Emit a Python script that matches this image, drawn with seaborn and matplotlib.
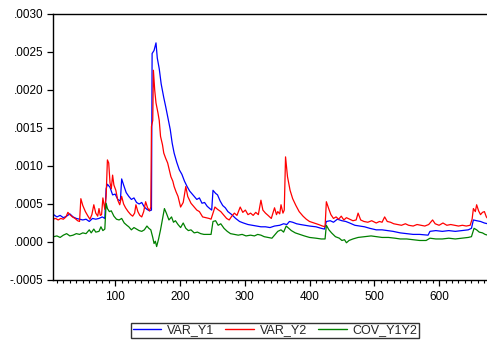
import pandas as pd
import seaborn as sns
import matplotlib.pyplot as plt
from matplotlib.ticker import MultipleLocator, FuncFormatter

# values
x_y1 = [1, 5, 10, 15, 20, 25, 30, 35, 40, 45, 50, 55, 60, 65, 70, 75, 80, 84, 86, 88,
        92, 96, 100, 104, 108, 110, 113, 117, 121, 125, 129, 133, 137, 141, 145, 149, 153, 156, 157, 160,
        163, 165, 168, 171, 175, 178, 181, 185, 188, 191, 195, 199, 203, 207, 211, 215, 219, 222, 226, 230,
        234, 238, 242, 246, 249, 251, 255, 258, 262, 266, 270, 274, 280, 286, 292, 298, 305, 312, 318, 325,
        332, 339, 346, 354, 360, 365, 369, 374, 380, 386, 393, 400, 410, 418, 423, 426, 432, 437, 443, 450,
        456, 462, 470, 477, 485, 493, 503, 512, 520, 529, 540, 550, 560, 570, 583, 586, 595, 605, 615, 625,
        635, 645, 650, 653, 658, 664, 670, 675]
var_y1 = [0.00034, 0.00036, 0.00033, 0.00035, 0.00032, 0.00034, 0.00037, 0.00033, 0.00031, 0.00030,
          0.00029, 0.00030, 0.00027, 0.00031, 0.00030, 0.00031, 0.00033, 0.00031, 0.00070, 0.00076,
          0.00072, 0.00062, 0.00063, 0.00056, 0.00054, 0.00083, 0.00075, 0.00065, 0.00060, 0.00056,
          0.00058, 0.00052, 0.00050, 0.00052, 0.00046, 0.00043, 0.00041, 0.00042, 0.00248, 0.00252,
          0.00262, 0.00242, 0.00228, 0.00208, 0.00190, 0.00178, 0.00165, 0.00148, 0.00130, 0.00117,
          0.00105, 0.00095, 0.00089, 0.00080, 0.00073, 0.00067, 0.00063, 0.00060, 0.00056, 0.00058,
          0.00051, 0.00052, 0.00047, 0.00044, 0.00042, 0.00068, 0.00064, 0.00062, 0.00054, 0.00048,
          0.00045, 0.00040, 0.00036, 0.00031, 0.00027, 0.00025, 0.00023, 0.00022, 0.00021, 0.00020,
          0.00020, 0.00019, 0.00021, 0.00022, 0.00024, 0.00023, 0.00027, 0.00026, 0.00024, 0.00023,
          0.00022, 0.00021, 0.00020, 0.00018, 0.00017, 0.00027, 0.00028, 0.00026, 0.00030, 0.00028,
          0.00027, 0.00025, 0.00022, 0.00021, 0.00020, 0.00018, 0.00016, 0.00016, 0.00015, 0.00014,
          0.00012, 0.00011, 0.00010, 0.00010, 0.00009, 0.00014, 0.00015, 0.00014, 0.00015, 0.00014,
          0.00015, 0.00016, 0.00018, 0.00029, 0.00028, 0.00027, 0.00025, 0.00024]

x_y2 = [1, 4, 8, 12, 16, 20, 24, 27, 30, 34, 38, 42, 45, 47, 50, 54, 58, 61, 64, 67,
        70, 73, 75, 77, 79, 81, 84, 86, 88, 90, 92, 94, 96, 98, 101, 104, 107, 110, 113, 116,
        120, 124, 127, 130, 132, 135, 138, 141, 144, 147, 150, 153, 155, 156, 158, 159, 161, 163, 166, 168,
        170, 173, 175, 178, 181, 184, 186, 189, 191, 194, 197, 201, 205, 209, 212, 217, 221, 226, 230, 235,
        240, 245, 248, 251, 254, 258, 263, 268, 272, 276, 280, 284, 288, 293, 297, 301, 305, 309, 313, 317,
        321, 325, 328, 332, 336, 341, 346, 349, 351, 354, 356, 359, 361, 363, 366, 370, 374, 379, 384, 390,
        395, 400, 407, 414, 420, 424, 426, 430, 433, 437, 441, 445, 449, 453, 457, 462, 467, 472, 475, 479,
        484, 490, 496, 503, 508, 512, 516, 520, 525, 530, 536, 542, 548, 553, 560, 566, 572, 578, 584, 590,
        594, 600, 606, 612, 618, 624, 630, 636, 642, 648, 651, 653, 656, 658, 661, 664, 667, 670, 673, 675]
var_y2 = [0.00033, 0.00030, 0.00031, 0.00029, 0.00031, 0.00030, 0.00033, 0.00039, 0.00036, 0.00033,
          0.00031, 0.00028, 0.00027, 0.00057, 0.00048, 0.00040, 0.00034, 0.00030, 0.00036, 0.00049,
          0.00038, 0.00034, 0.00044, 0.00035, 0.00036, 0.00058, 0.00043, 0.00060, 0.00108, 0.00104,
          0.00078, 0.00070, 0.00088, 0.00075, 0.00068, 0.00055, 0.00049, 0.00060, 0.00050, 0.00045,
          0.00040, 0.00036, 0.00034, 0.00038, 0.00049, 0.00040, 0.00035, 0.00033, 0.00040, 0.00053,
          0.00045, 0.00041, 0.00046, 0.00152, 0.00160, 0.00226, 0.00200, 0.00183, 0.00170, 0.00160,
          0.00139, 0.00128, 0.00117, 0.00110, 0.00104, 0.00093, 0.00086, 0.00080, 0.00073, 0.00066,
          0.00060, 0.00046, 0.00052, 0.00073, 0.00060, 0.00051, 0.00047, 0.00042, 0.00040, 0.00033,
          0.00032, 0.00031, 0.00030, 0.00038, 0.00046, 0.00043, 0.00040, 0.00035, 0.00031, 0.00029,
          0.00034, 0.00038, 0.00035, 0.00046, 0.00039, 0.00042, 0.00036, 0.00038, 0.00035, 0.00039,
          0.00036, 0.00055, 0.00042, 0.00038, 0.00035, 0.00031, 0.00045, 0.00036, 0.00040, 0.00037,
          0.00049, 0.00038, 0.00042, 0.00112, 0.00086, 0.00068, 0.00057, 0.00048, 0.00040, 0.00034,
          0.00030, 0.00027, 0.00025, 0.00023, 0.00021, 0.00020, 0.00053, 0.00043, 0.00036, 0.00031,
          0.00033, 0.00030, 0.00034, 0.00029, 0.00032, 0.00030, 0.00028, 0.00029, 0.00038, 0.00029,
          0.00027, 0.00026, 0.00028, 0.00025, 0.00027, 0.00026, 0.00033, 0.00027, 0.00026, 0.00024,
          0.00023, 0.00022, 0.00024, 0.00022, 0.00021, 0.00023, 0.00022, 0.00021, 0.00023, 0.00029,
          0.00024, 0.00022, 0.00025, 0.00022, 0.00023, 0.00022, 0.00021, 0.00022, 0.00021, 0.00022,
          0.00030, 0.00044, 0.00040, 0.00049, 0.00041, 0.00036, 0.00039, 0.00040, 0.00033, 0.00031]

x_cov = [1, 5, 10, 15, 20, 25, 30, 35, 40, 45, 50, 55, 60, 63, 67, 70, 75, 78, 81, 84,
         86, 88, 91, 94, 98, 102, 106, 110, 114, 118, 121, 125, 129, 133, 137, 141, 145, 149, 152, 155,
         158, 160, 162, 164, 167, 170, 173, 176, 179, 183, 187, 190, 193, 197, 201, 205, 209, 213, 217, 222,
         227, 232, 237, 242, 248, 251, 255, 259, 263, 268, 273, 278, 284, 290, 296, 302, 309, 315, 320, 325,
         330, 336, 342, 347, 351, 356, 360, 364, 368, 372, 378, 385, 392, 400, 410, 418, 424, 426, 430, 434,
         440, 446, 450, 454, 457, 461, 467, 475, 485, 495, 503, 512, 522, 532, 540, 550, 560, 570, 580, 586,
         595, 605, 615, 625, 635, 645, 650, 654, 658, 662, 667, 671, 675]
cov_y1y2 = [0.00009, 0.00007, 0.00008, 0.00006, 0.00009, 0.00011, 0.00008, 0.00009, 0.00011, 0.00010,
            0.00012, 0.00011, 0.00016, 0.00012, 0.00017, 0.00013, 0.00014, 0.00020, 0.00015, 0.00017,
            0.00051, 0.00044, 0.00040, 0.00041, 0.00034, 0.00030, 0.00029, 0.00031, 0.00025, 0.00022,
            0.00020, 0.00016, 0.00019, 0.00017, 0.00015, 0.00014, 0.00016, 0.00021, 0.00018, 0.00016,
            0.00006, -0.00002, 0.00001, -0.00006, 0.00004, 0.00016, 0.00030, 0.00044, 0.00038, 0.00029,
            0.00033, 0.00026, 0.00028, 0.00023, 0.00019, 0.00025, 0.00018, 0.00015, 0.00016, 0.00012,
            0.00013, 0.00011, 0.00010, 0.00010, 0.00010, 0.00027, 0.00028, 0.00022, 0.00024, 0.00018,
            0.00014, 0.00011, 0.00010, 0.00009, 0.00010, 0.00008, 0.00009, 0.00008, 0.00010, 0.00009,
            0.00007, 0.00006, 0.00005, 0.00010, 0.00014, 0.00016, 0.00013, 0.00021, 0.00018, 0.00015,
            0.00012, 0.00010, 0.00008, 0.00006, 0.00005, 0.00004, 0.00004, 0.00022, 0.00016, 0.00012,
            0.00007, 0.00005, 0.00002, 0.00003, -0.00001, 0.00002, 0.00004, 0.00006, 0.00007, 0.00008,
            0.00007, 0.00006, 0.00006, 0.00005, 0.00004, 0.00004, 0.00003, 0.00002, 0.00002, 0.00005,
            0.00004, 0.00004, 0.00005, 0.00004, 0.00005, 0.00006, 0.00007, 0.00018, 0.00016, 0.00013,
            0.00012, 0.00010, 0.00009]

series_names = ["VAR_Y1", "VAR_Y2", "COV_Y1Y2"]
series_colors = ["#0000FF", "#FF0000", "#008000"]


def main():
    frames = []
    for name, xs, ys in zip(series_names, [x_y1, x_y2, x_cov], [var_y1, var_y2, cov_y1y2]):
        frames.append(pd.DataFrame({"t": xs, "value": ys, "series": name}))
    df = pd.concat(frames, ignore_index=True)

    sns.set_theme(style="ticks")
    plt.rcParams["font.family"] = ["Liberation Sans", "DejaVu Sans"]

    fig = plt.figure(figsize=(4.87, 3.40), dpi=100)
    ax = fig.add_axes([53 / 487, 60 / 340, 434 / 487, 266 / 340])

    sns.lineplot(data=df, x="t", y="value", hue="series", hue_order=series_names,
                 palette=series_colors, estimator=None, sort=False, linewidth=0.9,
                 legend=False, ax=ax)

    ax.set_xlim(4, 674)
    ax.set_ylim(-0.0005, 0.0030)
    ax.xaxis.set_major_locator(MultipleLocator(100))
    ax.xaxis.set_minor_locator(MultipleLocator(10))
    ax.yaxis.set_major_locator(MultipleLocator(0.0005))

    def fmt(v, pos):
        s = f"{v:.4f}"
        return s.replace("0.", ".", 1)
    ax.yaxis.set_major_formatter(FuncFormatter(fmt))
    ax.xaxis.set_major_formatter(FuncFormatter(lambda v, p: f"{int(v)}"))

    ax.set_xlabel("")
    ax.set_ylabel("")
    for side in ["left", "bottom", "top"]:
        ax.spines[side].set_visible(True)
        ax.spines[side].set_color("black")
        ax.spines[side].set_linewidth(1.0)
    ax.spines["right"].set_visible(False)
    ax.tick_params(axis="both", which="major", direction="out", length=4, width=0.9,
                   colors="black", labelsize=8.5, pad=3)
    ax.tick_params(axis="x", which="major", pad=4)
    ax.tick_params(axis="x", which="minor", direction="out", length=2.5, width=0.8, colors="black")

    handles = [plt.Line2D([], [], color=c, linewidth=1.0) for c in series_colors]
    leg = fig.legend(handles, series_names, loc="lower center", ncol=3,
                     bbox_to_anchor=(275 / 487, -0.012), frameon=True, fancybox=False,
                     edgecolor="black", fontsize=9, handlelength=2.3,
                     columnspacing=0.9, handletextpad=0.45, borderpad=0.12)
    leg.get_frame().set_linewidth(1.0)

    fig.savefig("out.png", dpi=100)


if __name__ == "__main__":
    main()
